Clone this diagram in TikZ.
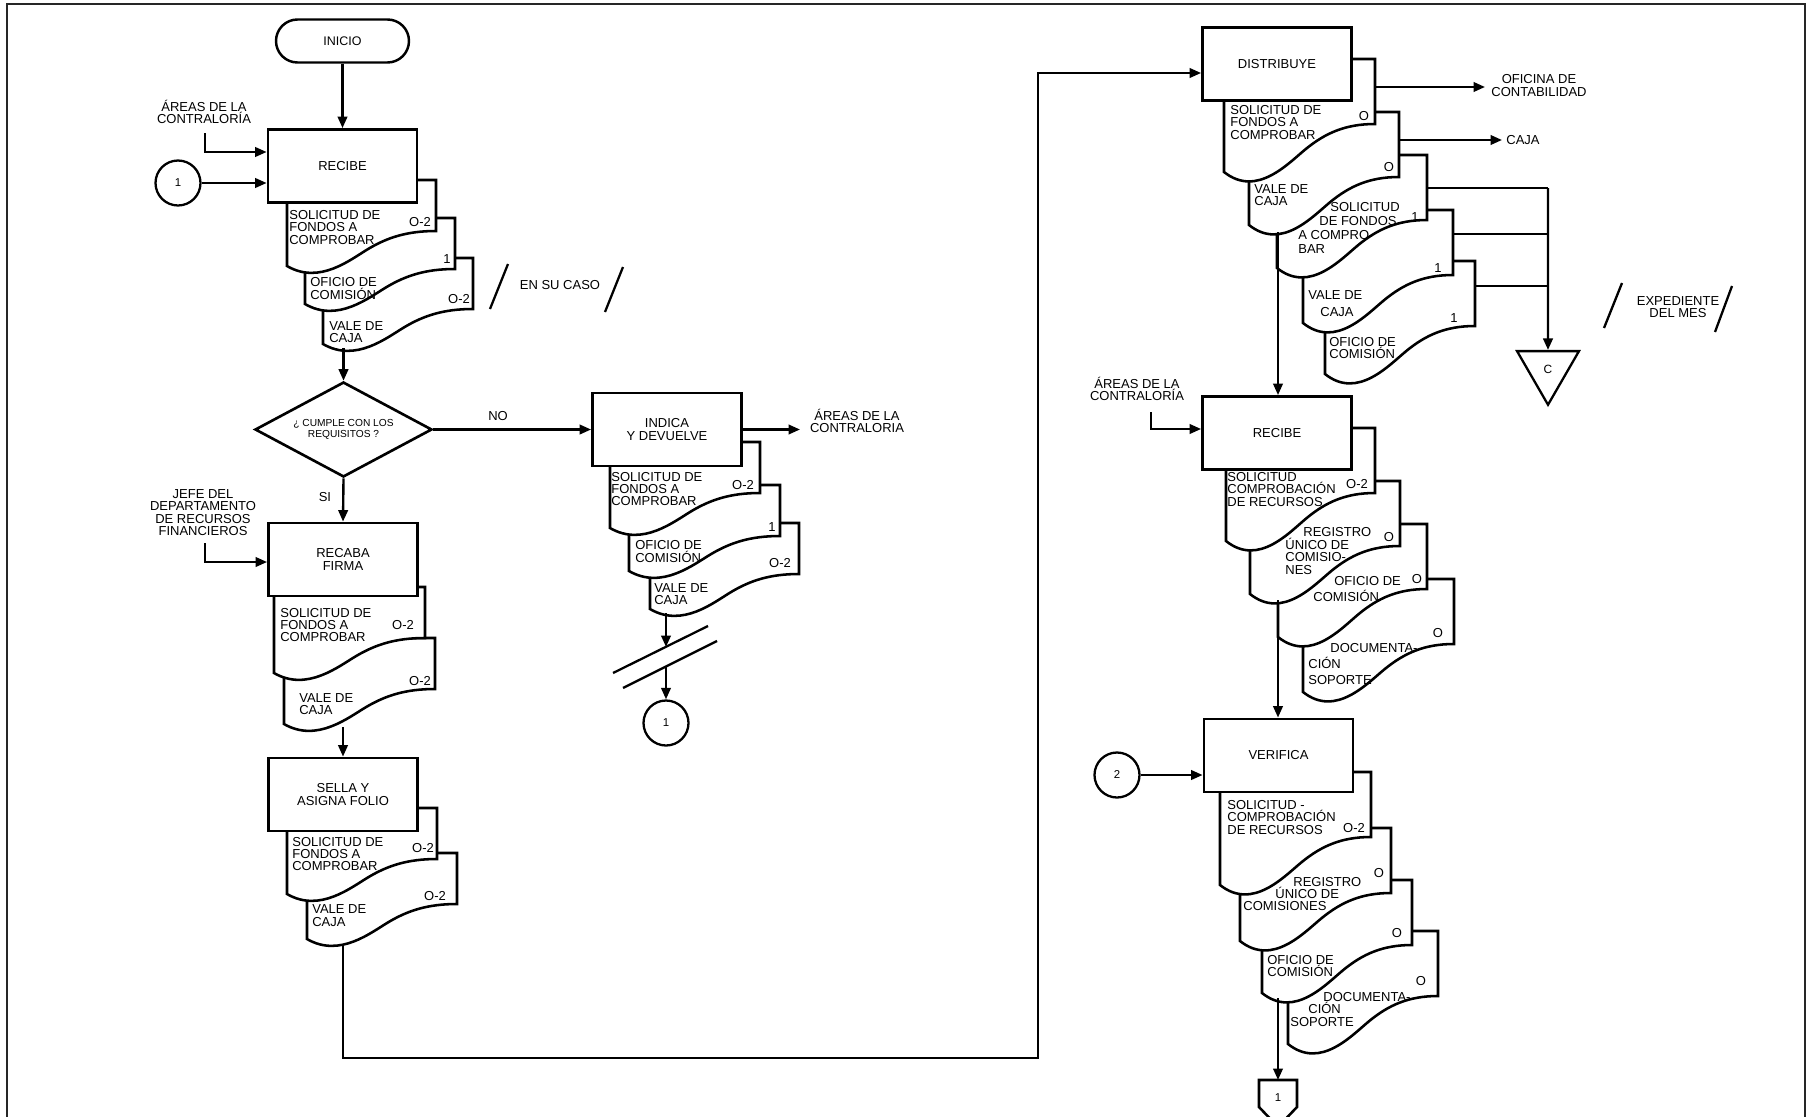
\documentclass[tikz,border=0pt]{standalone}
\usepackage{fontspec}
\setmainfont{Liberation Sans}
\usetikzlibrary{shapes.geometric, arrows.meta, positioning, calc}

\newcommand{\fsize}{\fontsize{7.4}{7.1}\selectfont}
% document symbol: name, x, y, width, right height, wave drop
\newcommand{\docshape}[6]{%
  \filldraw[docline] (#2,#3) -- ++(#4,0) coordinate (#1-ne) -- ++(0,#5)
    .. controls +(-0.2*#4,0) and +(0.12*#4,-0.3*#6) .. ++(-0.45*#4,0.5*#6)
    .. controls +(-0.12*#4,0.3*#6) and +(0.22*#4,0.55*#6) .. ++(-0.55*#4,0.5*#6) -- cycle;
}

\tikzset{
    procbox/.style={draw, rectangle, fill=white, line width=1.6pt, minimum width=29.8mm, minimum height=14.6mm, align=center, font=\fsize, inner sep=0},
    termbox/.style={draw, rectangle, rounded corners=4.3mm, fill=white, line width=1.4pt, minimum width=26.6mm, minimum height=8.6mm, font=\fontsize{7.1}{7.1}\selectfont},
    decision/.style={draw, diamond, fill=white, line width=1.5pt, minimum width=35.4mm, minimum height=19mm, aspect=1.86, inner sep=0, align=center, font=\fontsize{5.8}{6.3}\selectfont},
    connector/.style={draw, circle, fill=white, line width=1.3pt, minimum size=9mm, inner sep=0, font=\fontsize{6.5}{6.5}\selectfont},
    archive/.style={draw, regular polygon, regular polygon sides=3, shape border rotate=180, line width=1.3pt, minimum size=14.3mm, inner sep=0, font=\fontsize{6.8}{6.8}\selectfont},
    docline/.style={draw=black, fill=white, line width=1.45pt},
    doctext/.style={anchor=west, align=left, inner sep=0, font=\fsize},
    doccode/.style={inner sep=0, font=\fsize},
    annotation/.style={align=center, inner sep=0, font=\fsize},
    flowline/.style={line width=1.35pt},
    flowarrow/.style={flowline, -{Triangle[length=2.3mm, width=1.9mm]}},
    slash/.style={line width=1.3pt},
}

\begin{document}
\begin{tikzpicture}[x=0.2mm, y=-0.2mm]
    \useasboundingbox (0,0) rectangle (1812,1117);
    \fill[white] (0,0) rectangle (1812,1117);
    % Frame
    \draw[line width=1.1pt, black!85] (7,1117) -- (7,4) -- (1805,4) -- (1805,1117);

    % Start
    \node[termbox] (inicio) at (342.5,41) {INICIO};

    % Recibe
    \docshape{A3}{323}{258}{150}{51}{35}
    \docshape{A2}{305}{218}{150}{51}{35}
    \docshape{A1}{287}{180}{149}{51}{35}
    \node[procbox] (recibe) at (342.5,166) {RECIBE};
    \node[doctext] (tA1) at (289,227.5) {SOLICITUD DE\\FONDOS A\\COMPROBAR};
    \node[doccode] (cA1) at (420,222) {O-2};
    \node[doctext] (tA2) at (310,288.5) {OFICIO DE\\COMISIÓN};
    \node[doccode] (cA2) at (447,259) {1};
    \node[doctext] (tA3) at (329,332) {VALE DE\\CAJA};
    \node[doccode] (cA3) at (459,299) {O-2};

    \draw[flowarrow] (inicio) -- (recibe);
    \node[annotation] (areas1) at (204,112) {ÁREAS DE LA\\CONTRALORÍA};
    \coordinate (areas1in) at (205,133);
    \draw[flowarrow] (areas1in) |- ([yshift=2.8mm]recibe.west);
    \node[connector] (con1) at (178,183) {1};
    \draw[flowarrow] (con1) -- (con1 -| recibe.west);

    % En su caso
    \node[annotation] (caso) at (560,285) {EN SU CASO};
    \draw[slash] (490,309) -- (508,264);
    \draw[slash] (605,312) -- (623,267);

    % Decision
    \coordinate (outA) at (343.5,348);
    \node[decision] (cumple) at (343.5,429.5) {¿ CUMPLE CON LOS\\REQUISITOS ?};
    \draw[flowarrow] (outA) -- (cumple.north);

    % Indica y devuelve
    \docshape{D3}{650}{523}{149}{51}{35}
    \docshape{D2}{629}{485}{151}{51}{35}
    \docshape{D1}{610}{442}{150}{51}{35}
    \node[procbox] (indica) at (667,429.5) {INDICA\\Y DEVUELVE};
    \node[doctext] (tD1) at (611,489) {SOLICITUD DE\\FONDOS A\\COMPROBAR};
    \node[doccode] (cD1) at (743,485) {O-2};
    \node[doctext] (tD2) at (635,551.5) {OFICIO DE\\COMISIÓN};
    \node[doccode] (cD2) at (772,527) {1};
    \node[doctext] (tD3) at (654,594) {VALE DE\\CAJA};
    \node[doccode] (cD3) at (780,563) {O-2};

    \draw[flowarrow] (cumple.east) -- node[pos=0.41, above=1.5mm, annotation] {NO} (indica.west);
    \coordinate (toAreas2) at (800,429.5);
    \draw[flowarrow] (indica.east) -- (toAreas2);
    \node[annotation] (areas2) at (857,421) {ÁREAS DE LA\\CONTRALORIA};

    % Cut and connector 1
    \coordinate (outD) at (666,613);
    \coordinate (cut1) at (666,647);
    \coordinate (cut2) at (666,667);
    \draw[flowarrow] (outD) -- (cut1);
    \draw[slash] (613,673) -- (708,626);
    \draw[slash] (623,688) -- (717,641);
    \node[connector] (con1b) at (666,723) {1};
    \draw[flowarrow] (cut2) -- (con1b);

    % Recaba firma
    \docshape{B2}{284}{638}{151}{51}{35}
    \docshape{B1}{274}{587}{151}{51}{35}
    \node[procbox] (recaba) at (343,559.5) {RECABA\\FIRMA};
    \node[doctext] (tB1) at (280,625) {SOLICITUD DE\\FONDOS A\\COMPROBAR};
    \node[doccode] (cB1) at (403,625) {O-2};
    \node[doctext] (tB2) at (299,704) {VALE DE\\CAJA};
    \node[doccode] (cB2) at (420,681) {O-2};

    \draw[flowarrow] (cumple.south) -- node[pos=0.43, left=2.2mm, annotation] {SI} (recaba.north);
    \node[annotation] (jefe) at (203,512.5) {JEFE DEL\\DEPARTAMENTO\\DE RECURSOS\\FINANCIEROS};
    \coordinate (jefein) at (205,543);
    \draw[flowarrow] (jefein) |- ([yshift=-0.5mm]recaba.west);

    % Sella y asigna folio
    \docshape{C2}{307}{853}{150}{51}{35}
    \docshape{C1}{287}{808}{150}{51}{35}
    \node[procbox] (sella) at (343,794.5) {SELLA Y\\ASIGNA FOLIO};
    \node[doctext] (tC1) at (292,854) {SOLICITUD DE\\FONDOS A\\COMPROBAR};
    \node[doccode] (cC1) at (423,848) {O-2};
    \node[doctext] (tC2) at (312,915.5) {VALE DE\\CAJA};
    \node[doccode] (cC2) at (435,896) {O-2};

    \coordinate (outB) at (343,727);
    \draw[flowarrow] (outB) -- (sella.north);

    % Distribuye
    \docshape{E5}{1325}{261}{150}{65}{48}
    \docshape{E4}{1303}{210}{150}{65}{48}
    \docshape{E3}{1277}{155}{150}{65}{48}
    \docshape{E2}{1249}{112}{150}{65}{48}
    \docshape{E1}{1224}{59}{151}{65}{48}
    \node[procbox] (distribuye) at (1277,64) {DISTRIBUYE};
    \node[doctext] (tE1) at (1230,122.5) {SOLICITUD DE\\FONDOS A\\COMPROBAR};
    \node[doccode] (cE1) at (1364,116) {O};
    \node[doctext] (tE2) at (1254,195) {VALE DE\\CAJA};
    \node[doccode] (cE2) at (1389,167) {O};
    \node[doctext] (tE3) at (1298,228) {\hspace*{6.4mm}SOLICITUD\\[0.9pt]\hspace*{4.2mm}DE FONDOS\\[0.9pt]A COMPRO-\\[0.9pt]BAR};
    \node[doccode] (cE3) at (1415,217) {1};
    \node[doctext] (tE4) at (1308,303.5) {VALE DE\\[2.6pt]\hspace*{2.4mm}CAJA};
    \node[doccode] (cE4) at (1438,268) {1};
    \node[doctext] (tE5) at (1329,348) {OFICIO DE\\COMISIÓN};
    \node[doccode] (cE5) at (1454,318) {1};

    % Return line to distribuye
    \coordinate (outC) at (343,945);
    \coordinate (retorno) at (1038,1058);
    \draw[flowarrow] (outC) |- (retorno) |- ([yshift=-1.8mm]distribuye.west);

    % Outputs of distribuye
    \coordinate (toOficina) at (1485,87);
    \draw[flowarrow] (E1-ne |- toOficina) -- (toOficina);
    \node[annotation] (oficina) at (1539,85.5) {OFICINA DE\\CONTABILIDAD};
    \coordinate (toCaja) at (1502,140);
    \draw[flowarrow] (E2-ne |- toCaja) -- (toCaja);
    \node[annotation, anchor=west] (caja) at (1506,140) {CAJA};
    \coordinate (bus1) at (1548,188);
    \coordinate (bus2) at (1548,234);
    \coordinate (bus3) at (1548,286);
    \draw[flowline] (E3-ne |- bus1) -- (bus1);
    \draw[flowline] (E4-ne |- bus2) -- (bus2);
    \draw[flowline] (E5-ne |- bus3) -- (bus3);
    \node[archive] (expC) at (1548,369) {C};
    \draw[flowarrow] (bus1) -- (expC.north);
    \node[annotation] (expediente) at (1678,307) {EXPEDIENTE\\DEL MES};
    \draw[slash] (1604,328) -- (1622,283);
    \draw[slash] (1715,332) -- (1732,286);

    % Recibe (second)
    \docshape{F4}{1303}{579}{151}{65}{48}
    \docshape{F3}{1278}{524}{149}{65}{48}
    \docshape{F2}{1250}{481}{150}{65}{48}
    \docshape{F1}{1226}{428}{149}{65}{48}
    \node[procbox] (recibe2) at (1277,433) {RECIBE};
    \node[doctext] (tF1) at (1227,489.5) {SOLICITUD\\COMPROBACIÓN\\DE RECURSOS};
    \node[doccode] (cF1) at (1357,484) {O-2};
    \node[doctext] (tF2) at (1285,551) {\hspace*{3.6mm}REGISTRO\\ÚNICO DE\\COMISIO-\\NES};
    \node[doccode] (cF2) at (1389,537) {O};
    \node[doctext] (tF3) at (1313,589) {\hspace*{4.2mm}OFICIO DE\\[2pt]COMISIÓN};
    \node[doccode] (cF3) at (1417,579) {O};
    \node[doctext] (tF4) at (1308,664) {\hspace*{4.4mm}DOCUMENTA-\\[2pt]CIÓN\\[2pt]SOPORTE};
    \node[doccode] (cF4) at (1438,633) {O};

    \coordinate (outE) at (1278,232);
    \draw[flowarrow] (outE) -- (outE |- recibe2.north);
    \node[annotation] (areas3) at (1137,389) {ÁREAS DE LA\\CONTRALORÍA};
    \coordinate (areas3in) at (1151,412);
    \draw[flowarrow] (areas3in) |- ([yshift=0.8mm]recibe2.west);

    % Verifica
    \docshape{G4}{1288}{931}{150}{65}{48}
    \docshape{G3}{1262}{880}{150}{65}{48}
    \docshape{G2}{1240}{828}{151}{65}{48}
    \docshape{G1}{1220}{772}{151}{65}{48}
    \node[procbox] (verifica) at (1278.5,755.5) {VERIFICA};
    \node[doctext] (tG1) at (1227,817.5) {SOLICITUD -\\COMPROBACIÓN\\DE RECURSOS};
    \node[doccode] (cG1) at (1354,828) {O-2};
    \node[doctext] (tG2) at (1243,894) {\hspace*{10mm}REGISTRO\\\hspace*{6.4mm}ÚNICO DE\\COMISIONES};
    \node[doccode] (cG2) at (1379,873) {O};
    \node[doctext] (tG3) at (1267,966) {OFICIO DE\\COMISIÓN};
    \node[doccode] (cG3) at (1397,933) {O};
    \node[doctext] (tG4) at (1290,1009.5) {\hspace*{6.6mm}DOCUMENTA-\\\hspace*{3.6mm}CIÓN\\SOPORTE};
    \node[doccode] (cG4) at (1421,981) {O};

    \coordinate (outF) at (1278,600);
    \draw[flowarrow] (outF) -- (outF |- verifica.north);
    \node[connector] (con2) at (1117,775) {2};
    \draw[flowarrow] (con2) -- (con2 -| verifica.west);

    % Off-page connector
    \draw[docline] (1259,1080) -- (1297,1080) -- (1297,1107) -- (1278,1127) -- (1259,1107) -- cycle;
    \node[doccode, font=\fontsize{6.5}{6.5}\selectfont] (pag1) at (1278,1098) {1};
    \coordinate (outG) at (1278,998);
    \coordinate (pagtop) at (1278,1080);
    \draw[flowarrow] (outG) -- (pagtop);
\end{tikzpicture}
\end{document}
